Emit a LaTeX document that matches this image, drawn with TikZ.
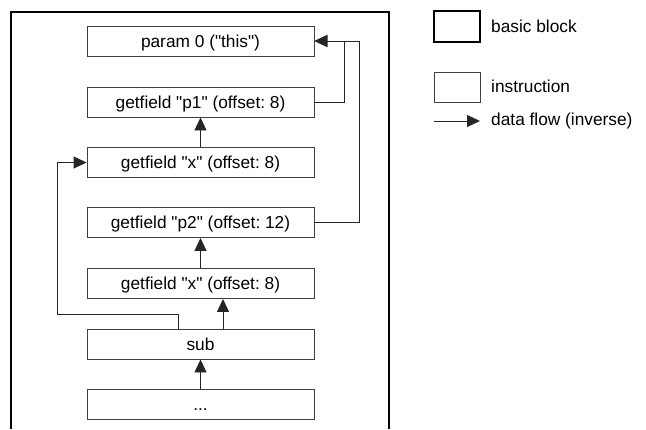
\documentclass[tikz,border=0pt]{standalone}
\usepackage{fontspec}
\setmainfont{Liberation Sans}[Ligatures=TeXOff]
\usetikzlibrary{arrows.meta}
\frenchspacing
\begin{document}
\begin{tikzpicture}[x=1pt,y=-1pt,
  txt/.style={font=\fontsize{17.3}{20}\selectfont},
  instr/.style={draw=black!75, line width=0.9pt, minimum width=227pt, minimum height=30pt,
    inner sep=0pt, text height=12pt, text depth=0pt, txt},
  block/.style={draw=black, line width=1.6pt},
  flow/.style={draw=black!85, line width=0.9pt, -{Triangle[length=13pt,width=12pt]}}]
\useasboundingbox (0,0) rectangle (646,429);

% basic block (continues below the visible area)
\draw[block] (11,429) -- (11,12) -- (389,12) -- (389,429);

% instructions
\node[instr] (param) at (200.5,41)    {param 0 ("this")};
\node[instr] (p1)    at (200.5,102)   {getfield "p1" (offset: 8)};
\node[instr] (x1)    at (200.5,162.5) {getfield "x" (offset: 8)};
\node[instr] (p2)    at (200.5,222.5) {getfield "p2" (offset: 12)};
\node[instr] (x2)    at (200.5,283.5) {getfield "x" (offset: 8)};
\node[instr] (sub)   at (200.5,344)   {sub};
\node[instr] (rest)  at (200.5,404)   {...};

% data flow edges
\draw[flow] (p1.east) -- ++(30,0) |- (param.east);
\draw[flow] (p2.east) -- ++(45,0) |- (param.east);
\draw[flow] (x1.north) -- (p1.south);
\draw[flow] (x2.north) -- (p2.south);
\draw[flow] (rest.north) -- (sub.south);
\draw[flow] ([xshift=22.5pt]sub.north) -- ([xshift=22.5pt]x2.south);
\coordinate (lbend) at (57,314);
\draw[flow] ([xshift=-22.5pt]sub.north) |- (lbend) |- (x1.west);

% legend
\node[draw=black, line width=1.3pt, minimum width=46pt, minimum height=31pt, inner sep=0pt] (lgbb) at (457,26.5) {};
\node[txt, anchor=west, inner sep=0pt] (lgbbt) at (491,26.5) {basic block};
\node[draw=black!75, line width=0.9pt, minimum width=46pt, minimum height=30pt, inner sep=0pt] (lgin) at (457,87) {};
\node[txt, anchor=west, inner sep=0pt] (lgint) at (491,86) {instruction};
\coordinate (lgfa) at (434,121);
\coordinate (lgfb) at (480,121);
\draw[flow] (lgfa) -- (lgfb);
\node[txt, anchor=west, inner sep=0pt] (lgft) at (491,121) {data flow (inverse)};
\end{tikzpicture}
\end{document}
